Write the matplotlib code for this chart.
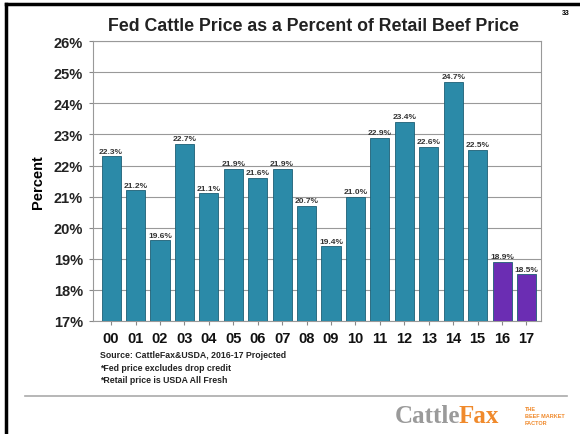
import matplotlib
matplotlib.use("Agg")
import matplotlib.pyplot as plt
from matplotlib.lines import Line2D

plt.rcParams['font.family'] = ['Liberation Sans', 'DejaVu Sans']

# data
years = ['00', '01', '02', '03', '04', '05', '06', '07', '08',
         '09', '10', '11', '12', '13', '14', '15', '16', '17']
pct = [22.3, 21.2, 19.6, 22.7, 21.1, 21.9, 21.6, 21.9, 20.7,
       19.4, 21.0, 22.9, 23.4, 22.6, 24.7, 22.5, 18.9, 18.5]
projected = ['16', '17']
yticks = [17, 18, 19, 20, 21, 22, 23, 24, 25, 26]
notes = ["Source: CattleFax&USDA, 2016-17 Projected",
         "*Fed price excludes drop credit",
         "*Retail price is USDA All Fresh"]

teal = '#2b8aa8'
purple = '#6b2db3'

fig = plt.figure(figsize=(5.8, 4.35), dpi=100)
ax = fig.add_axes([0.160, 0.260, 0.773, 0.643])

x = list(range(len(years)))
colors = [purple if y in projected else teal for y in years]
ax.bar(x, [p - 17 for p in pct], bottom=17, width=0.78, color=colors,
       edgecolor='#1d5f75', linewidth=0.6, zorder=3)

for xi, p in zip(x, pct):
    ax.text(xi, p + 0.05, f"{p:.1f}%", ha='center', va='bottom',
            fontsize=6, fontweight='bold', color='#333333', zorder=4)

ax.set_ylim(17, 26)
ax.set_xlim(-0.75, 17.6)
ax.set_yticks(yticks)
ax.set_yticklabels([f"{t}%" for t in yticks], fontsize=10.5,
                   fontweight='bold', color='#222222')
ax.set_xticks(x)
ax.set_xticklabels(years, fontsize=10.5, fontweight='bold', color='#111111')
ax.yaxis.grid(True, color='#999999', linewidth=0.8, zorder=0)
ax.tick_params(axis='both', length=3, color='#888888', pad=4)
for s in ax.spines.values():
    s.set_color('#999999')
    s.set_linewidth(0.8)
ax.set_ylabel('Percent', fontsize=10.5, fontweight='bold', labelpad=6)

fig.text(0.540, 0.938, 'Fed Cattle Price as a Percent of Retail Beef Price',
         ha='center', va='center', fontsize=12.8, fontweight='bold',
         color='#222222')
fig.text(0.982, 0.968, '33', ha='right', va='center', fontsize=5,
         fontweight='bold')

for i, n in enumerate(notes):
    fig.text(0.172, 0.183 - i * 0.029, n, ha='left', va='center',
             fontsize=6.3, fontweight='bold', color='#222222')

# slide frame
fig.add_artist(Line2D([0.011, 1.0], [0.988, 0.988], color='black', lw=2.5))
fig.add_artist(Line2D([0.011, 0.011], [0.0, 0.988], color='black', lw=2.5))
fig.add_artist(Line2D([0.043, 0.978], [0.087, 0.087], color='#aaaaaa', lw=1.2))

# logo: "Cattle" grey, "Fax" orange, butted together
cattle = fig.text(0.680, 0.042, 'Cattle', ha='left', va='center', fontsize=18,
                  family='Liberation Serif', fontweight='bold', color='#9a9a9a')
fig.canvas.draw()
bb = cattle.get_window_extent().transformed(fig.transFigure.inverted())
fig.text(bb.x1 - 0.003, 0.042, 'Fax', ha='left', va='center', fontsize=18,
         family='Liberation Serif', fontweight='bold', color='#f08a2c')
fig.text(0.905, 0.042, 'THE\nBEEF MARKET\nFACTOR', ha='left', va='center',
         fontsize=4, fontweight='bold', color='#f08a2c', linespacing=1.5)

fig.savefig('out.png', dpi=100)
